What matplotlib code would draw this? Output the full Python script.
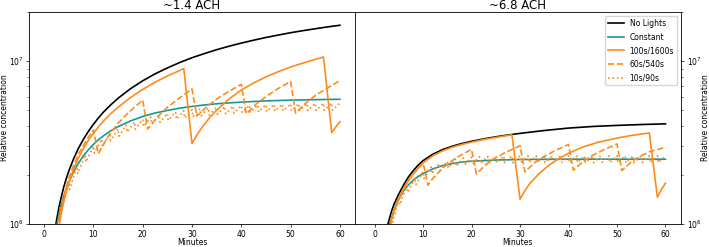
import numpy as np
import matplotlib.pyplot as plt

# values (minutes, relative concentration)
# ~1.4 ACH
l_t = [2, 2.5, 3, 3.5, 4, 4.5, 5, 6, 7, 8, 9, 10, 11, 12, 13.5, 15, 17.5, 20, 22.5, 25, 27.5,
       30, 32.5, 35, 37.5, 40, 42.5, 45, 47.5, 50, 52.5, 55, 57.5, 60]
l_black = [8.3e5, 1.04e6, 1.26e6, 1.47e6, 1.69e6, 1.90e6, 2.11e6, 2.52e6, 2.93e6, 3.32e6,
           3.71e6, 4.09e6, 4.47e6, 4.85e6, 5.38e6, 5.91e6, 6.76e6, 7.57e6, 8.35e6, 9.08e6,
           9.80e6, 1.049e7, 1.112e7, 1.175e7, 1.234e7, 1.29e7, 1.344e7, 1.397e7, 1.445e7,
           1.494e7, 1.538e7, 1.58e7, 1.622e7, 1.66e7]
l_const = [7.65e5, 9.54e5, 1.135e6, 1.31e6, 1.48e6, 1.64e6, 1.80e6, 2.10e6, 2.37e6, 2.63e6,
           2.86e6, 3.08e6, 3.29e6, 3.47e6, 3.73e6, 3.96e6, 4.29e6, 4.57e6, 4.80e6, 4.98e6,
           5.14e6, 5.27e6, 5.38e6, 5.47e6, 5.54e6, 5.60e6, 5.65e6, 5.70e6, 5.73e6, 5.76e6,
           5.78e6, 5.80e6, 5.82e6, 5.83e6]
l_long_t = [2, 2.5, 3, 3.5, 4, 4.5, 5, 6, 7, 8, 9, 10, 11, 12, 13.5, 15, 17.5, 20, 22.5, 25,
            27.5, 28.33, 30, 31, 32, 33.5, 35, 37.5, 40, 42.5, 45, 47.5, 50, 52.5, 55, 56.67,
            58.33, 59, 60]
l_long = [6.0e5, 7.8e5, 9.6e5, 1.17e6, 1.38e6, 1.58e6, 1.78e6, 2.18e6, 2.55e6, 2.92e6,
          3.27e6, 3.6e6, 3.94e6, 4.27e6, 4.75e6, 5.2e6, 5.97e6, 6.7e6, 7.42e6, 8.1e6, 8.75e6,
          9.0e6, 3.12e6, 3.52e6, 3.91e6, 4.47e6, 5.0e6, 5.85e6, 6.65e6, 7.35e6, 8.0e6, 8.62e6,
          9.2e6, 9.73e6, 1.025e7, 1.06e7, 3.63e6, 3.88e6, 4.25e6]
l_mid_t = [2, 3, 4, 5, 6, 7, 8, 9, 10, 11, 13, 15, 17, 20, 21, 23, 25, 27, 30, 31, 33, 35,
           37, 40, 41, 43, 45, 47, 50, 51, 53, 55, 57, 60]
l_mid = [6.3e5, 1.05e6, 1.48e6, 1.9e6, 2.3e6, 2.7e6, 3.05e6, 3.42e6, 3.78e6, 2.7e6, 3.45e6,
         4.15e6, 4.8e6, 5.77e6, 3.83e6, 4.55e6, 5.2e6, 5.8e6, 6.75e6, 4.6e6, 5.25e6, 5.85e6,
         6.4e6, 7.2e6, 4.75e6, 5.45e6, 6.05e6, 6.65e6, 7.5e6, 4.8e6, 5.5e6, 6.15e6, 6.7e6, 7.6e6]

# ~6.8 ACH
r_black_t = [2, 2.75, 3.5, 4, 5, 6, 7, 8, 9, 10, 12, 14, 16, 18, 20, 22.5, 25, 27.5, 30, 35,
             40, 45, 50, 55, 60]
r_black = [7.0e5, 1.0e6, 1.2e6, 1.32e6, 1.53e6, 1.74e6, 1.95e6, 2.13e6, 2.3e6, 2.45e6, 2.68e6,
           2.86e6, 3.0e6, 3.12e6, 3.22e6, 3.33e6, 3.43e6, 3.52e6, 3.6e6, 3.75e6, 3.88e6,
           3.97e6, 4.03e6, 4.08e6, 4.12e6]
r_const_t = [2, 3.1, 4, 5, 6, 7, 8, 9, 10, 12, 14, 16, 18, 20, 25, 30, 40, 50, 60]
r_const = [6.5e5, 1.0e6, 1.22e6, 1.42e6, 1.6e6, 1.74e6, 1.86e6, 1.96e6, 2.04e6, 2.18e6,
           2.28e6, 2.35e6, 2.4e6, 2.43e6, 2.47e6, 2.49e6, 2.5e6, 2.5e6, 2.5e6]
r_long_t = [2, 3, 3.5, 4, 5, 6, 7, 8, 9, 10, 12, 14, 16, 18, 20, 22.5, 25, 28.33, 30, 31, 32,
            34, 36, 38, 40, 43, 46, 50, 53, 56.67, 58.33, 59, 60]
r_long = [5.5e5, 9.0e5, 1.05e6, 1.2e6, 1.42e6, 1.64e6, 1.85e6, 2.03e6, 2.2e6, 2.37e6, 2.62e6,
          2.81e6, 2.96e6, 3.08e6, 3.18e6, 3.3e6, 3.4e6, 3.53e6, 1.42e6, 1.6e6, 1.77e6,
          2.05e6, 2.3e6, 2.52e6, 2.72e6, 2.97e6, 3.17e6, 3.37e6, 3.5e6, 3.62e6, 1.46e6,
          1.6e6, 1.78e6]
r_mid_t = [2, 3, 4, 5, 6, 7, 8, 9, 10, 11, 12, 14, 16, 18, 20, 21, 23, 25, 27, 30, 31, 33,
           35, 37, 40, 41, 43, 45, 47, 50, 51, 53, 55, 57, 60]
r_mid = [5.5e5, 9.5e5, 1.22e6, 1.44e6, 1.65e6, 1.85e6, 2.03e6, 2.2e6, 2.38e6, 1.73e6, 1.9e6,
         2.2e6, 2.45e6, 2.67e6, 2.87e6, 2.03e6, 2.32e6, 2.55e6, 2.75e6, 3.02e6, 2.09e6,
         2.38e6, 2.6e6, 2.8e6, 3.08e6, 2.14e6, 2.42e6, 2.64e6, 2.83e6, 3.1e6, 2.13e6, 2.41e6,
         2.63e6, 2.8e6, 2.95e6]

# 10s/90s: value at the end of each dark period (peak) and after each 10 s pulse (trough)
dot_peak_t = [1.67, 3.33, 5.0, 6.67, 8.33, 10.0, 11.67, 13.33, 15.0, 16.67, 18.33, 20.0,
              21.67, 23.33, 25.0, 26.67, 28.33, 30.0, 31.67, 33.33, 35.0, 36.67, 38.33, 40.0,
              41.67, 43.33, 45.0, 46.67, 48.33, 50.0, 51.67, 53.33, 55.0, 56.67, 58.33, 60.0]
dot_trough_t = [1.83, 3.5, 5.17, 6.83, 8.5, 10.17, 11.83, 13.5, 15.17, 16.83, 18.5, 20.17,
                21.83, 23.5, 25.17, 26.83, 28.5, 30.17, 31.83, 33.5, 35.17, 36.83, 38.5, 40.17,
                41.83, 43.5, 45.17, 46.83, 48.5, 50.17, 51.83, 53.5, 55.17, 56.83, 58.5]
l_dot_peak = [0.70, 1.29, 1.80, 2.26, 2.66, 3.01, 3.32, 3.59, 3.83, 4.04, 4.23, 4.39, 4.54,
              4.66, 4.77, 4.87, 4.96, 5.03, 5.10, 5.16, 5.21, 5.26, 5.30, 5.33, 5.36, 5.39,
              5.41, 5.44, 5.45, 5.47, 5.48, 5.50, 5.51, 5.52, 5.53, 5.53]
l_dot_trough = [0.63, 1.16, 1.63, 2.04, 2.40, 2.72, 3.00, 3.25, 3.46, 3.66, 3.82, 3.97, 4.10,
                4.21, 4.32, 4.40, 4.48, 4.55, 4.61, 4.66, 4.71, 4.75, 4.79, 4.82, 4.85, 4.87,
                4.89, 4.91, 4.93, 4.95, 4.96, 4.97, 4.98, 4.99, 5.00]
r_dot_peak = [0.50, 1.05, 1.45, 1.72, 1.92, 2.10, 2.24, 2.35, 2.43, 2.50, 2.54, 2.57, 2.59,
              2.60, 2.61, 2.62, 2.62, 2.62, 2.62, 2.62, 2.62, 2.62, 2.62, 2.62, 2.62, 2.62,
              2.62, 2.62, 2.62, 2.62, 2.62, 2.62, 2.62, 2.62, 2.62, 2.62]
r_dot_trough = [0.45, 0.95, 1.31, 1.56, 1.74, 1.90, 2.03, 2.13, 2.20, 2.26, 2.30, 2.33, 2.35,
                2.36, 2.37, 2.38, 2.38, 2.38, 2.38, 2.38, 2.38, 2.38, 2.38, 2.38, 2.38, 2.38,
                2.38, 2.38, 2.38, 2.38, 2.38, 2.38, 2.38, 2.38, 2.38]


def sawtooth(peak_t, trough_t, peaks, troughs):
    # peaks and troughs alternate in time, values in millions
    t = np.empty(len(peak_t) + len(trough_t))
    v = np.empty_like(t)
    t[0::2], t[1::2] = peak_t, trough_t
    v[0::2], v[1::2] = peaks, troughs
    return t, v * 1e6


black = "black"
teal = "#17979a"
orange = "#ff8c1a"
lw = 1.2

fig = plt.figure(figsize=(7.09, 2.47), dpi=100)
ax1 = fig.add_axes([0.0413, 0.0931, 0.459, 0.858])
ax2 = fig.add_axes([0.5003, 0.0931, 0.4602, 0.858])

panels = [
    (ax1, "~1.4 ACH", l_t, l_black, l_t, l_const, l_long_t, l_long, l_mid_t, l_mid,
     l_dot_peak, l_dot_trough),
    (ax2, "~6.8 ACH", r_black_t, r_black, r_const_t, r_const, r_long_t, r_long, r_mid_t,
     r_mid, r_dot_peak, r_dot_trough),
]

for ax, title, bt, bv, ct, cv, st, sv, mt, mv, dp, dtr in panels:
    ax.plot(bt, bv, color=black, lw=lw, label="No Lights")
    ax.plot(ct, cv, color=teal, lw=lw, label="Constant")
    ax.plot(st, sv, color=orange, lw=lw, label="100s/1600s")
    ax.plot(mt, mv, color=orange, lw=lw, ls="--", label="60s/540s")
    dt, dv = sawtooth(dot_peak_t, dot_trough_t, dp, dtr)
    ax.plot(dt, dv, color=orange, lw=lw, ls=":", label="10s/90s")

    ax.set_yscale("log")
    ax.set_ylim(1e6, 2.0e7)
    ax.set_title(title, fontsize=8.5, pad=0.5)
    ax.set_xlabel("Minutes", fontsize=5.5)
    ax.set_ylabel("Relative concentration", fontsize=5.5)
    ax.xaxis.set_label_coords(0.5, -0.066)
    ax.set_xticks([0, 10, 20, 30, 40, 50, 60])
    ax.tick_params(which="major", labelsize=5.5, length=2.5, width=0.5, pad=1.5)
    ax.tick_params(which="minor", length=1.5, width=0.4)
    for s in ax.spines.values():
        s.set_linewidth(0.6)

ax1.set_xlim(-3, 63)
ax2.set_xlim(-4.1, 63.2)
ax1.yaxis.set_label_coords(-0.061, 0.5)
ax2.yaxis.tick_right()
ax2.yaxis.set_label_position("right")
ax2.yaxis.set_label_coords(1.061, 0.5)

ax2.legend(loc="upper right", fontsize=5.5, handlelength=2.0, borderaxespad=0.5,
           labelspacing=0.6, framealpha=0.8)

fig.savefig("out.png", dpi=100)
